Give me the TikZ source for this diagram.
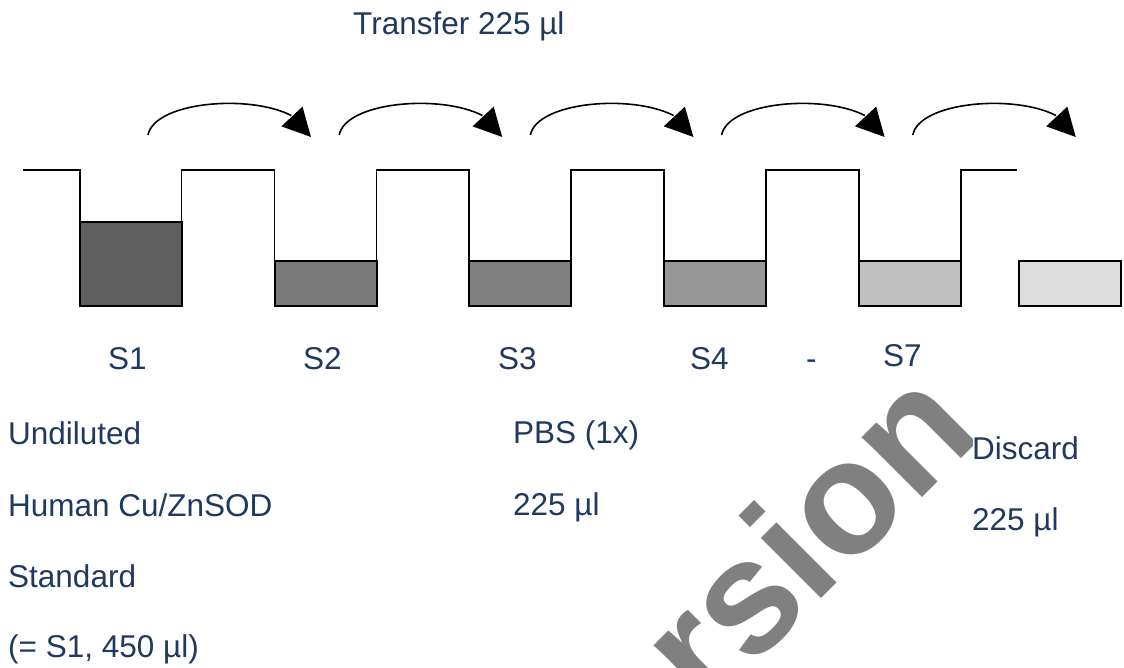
\documentclass[tikz,border=0pt]{standalone}
\usepackage{fontspec}
\setmainfont{Liberation Sans}
\usetikzlibrary{arrows.meta,bending}
\definecolor{txt}{RGB}{31,57,97}
\definecolor{wm}{RGB}{128,128,128}
\definecolor{f1}{RGB}{95,95,95}
\definecolor{f2}{RGB}{122,122,122}
\definecolor{f3}{RGB}{128,128,128}
\definecolor{f4}{RGB}{150,150,150}
\definecolor{f5}{RGB}{192,192,192}
\definecolor{f6}{RGB}{221,221,221}
\begin{document}
\begin{tikzpicture}[x=1pt,y=-1pt,
  lbl/.style={anchor=base west, inner sep=0pt, text=txt, font=\fontsize{31.5}{37}\selectfont},
  wall/.style={draw=black, line width=1.6pt},
  liquid/.style={draw=black, line width=2pt},
  seam/.style={draw=black, line width=2.6pt},
  transfer/.style={draw=black, line width=1.6pt, -{Triangle[length=28pt,width=28.5pt,flex]}}]
\useasboundingbox (0,0) rectangle (1124,668);
\fill[white] (0,0) rectangle (1124,668);

% plate outline
\draw[wall] (23,170) -- (80,170) -- (80,306) -- (181.5,306) -- (181.5,170)
  -- (274.5,170) -- (274.5,306) -- (376.5,306) -- (376.5,170)
  -- (469,170) -- (469,306) -- (571,306) -- (571,170)
  -- (664,170) -- (664,306) -- (766,306) -- (766,170)
  -- (859,170) -- (859,306) -- (961,306) -- (961,170) -- (1017,170);
\foreach \sx in {218,412,608,803}
  \draw[seam] (\sx,170) -- ++(20,0);

% liquid in wells
\draw[liquid, fill=f1] (80,222) rectangle (181.5,306);
\draw[liquid, fill=f2] (274.5,261) rectangle (376.5,306);
\draw[liquid, fill=f3] (469,261) rectangle (571,306);
\draw[liquid, fill=f4] (664,261) rectangle (766,306);
\draw[liquid, fill=f5] (859,261) rectangle (961,306);
\draw[liquid, fill=f6] (1019,261) rectangle (1121,306);

% transfer arrows
\foreach \i in {0,...,4}{
  \coordinate (a\i) at (148+191.2*\i,135);
  \coordinate (b\i) at (311+191.2*\i,137);
  \draw[transfer] (a\i) .. controls +(8,-41) and +(-11,-46) .. (b\i);
}

% watermark
\begin{scope}
\clip (0,0) rectangle (1124,668);
\node[rotate=45, anchor=base west, inner sep=0pt, text=wm,
  font=\fontsize{161}{164}\selectfont\bfseries] (wmark) at (706,714) {rsion};
\end{scope}
\fill[white] (973,425) rectangle (1124,545);

% labels
\node[lbl] (title) at (353,35) {Transfer 225 µl};
\node[lbl] (s1) at (108,369) {S1};
\node[lbl] (s2) at (303,369) {S2};
\node[lbl] (s3) at (498,369) {S3};
\node[lbl] (s4) at (690,369) {S4};
\node[lbl] (dash) at (806,369) {-};
\node[lbl] (s7) at (883,366) {S7};
\node[lbl] (u1) at (8,444) {Undiluted};
\node[lbl] (u2) at (8,516) {Human Cu/ZnSOD};
\node[lbl] (u3) at (8,587) {Standard};
\node[lbl] (u4) at (8,657) {(= S1, 450 µl)};
\node[lbl] (p1) at (513,443) {PBS (1x)};
\node[lbl] (p2) at (513,515) {225 µl};
\node[lbl] (d1) at (972,459) {Discard};
\node[lbl] (d2) at (972,530) {225 µl};
\end{tikzpicture}
\end{document}
